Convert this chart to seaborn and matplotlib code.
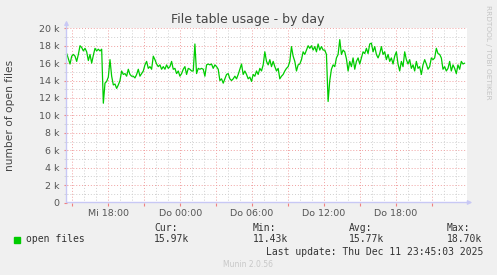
import numpy as np
import pandas as pd
import matplotlib
matplotlib.use("Agg")
import matplotlib.pyplot as plt
import matplotlib.dates as mdates
import matplotlib.ticker as mticker
import seaborn as sns

# ---- data (thousands of open files, one sample every 500 s) ----
values_k = [
    17.1, 16.5, 15.9, 16.8, 17.0, 16.8, 16.2, 17.0, 18.0, 17.8,
    17.4, 17.7, 17.3, 16.3, 17.0, 16.0, 16.9, 17.7, 17.4, 17.6,
    17.4, 17.6, 11.4, 13.7, 13.9, 14.4, 16.4, 14.5, 13.5, 13.6,
    13.1, 13.5, 14.0, 15.1, 14.7, 14.8, 14.5, 15.3, 14.7, 14.5,
    14.5, 14.3, 14.7, 15.3, 14.5, 14.8, 15.1, 15.8, 16.2, 15.4,
    15.6, 15.3, 16.8, 16.4, 15.9, 15.6, 15.8, 15.3, 15.6, 15.3,
    15.8, 15.4, 15.6, 16.2, 15.3, 15.4, 14.8, 15.1, 14.5, 14.8,
    15.3, 15.6, 14.7, 15.4, 15.3, 15.1, 15.1, 18.2, 14.8, 15.4,
    15.3, 15.4, 15.3, 14.5, 15.8, 15.9, 15.8, 15.9, 15.4, 15.8,
    15.6, 15.3, 14.0, 14.2, 13.7, 14.2, 14.7, 14.8, 14.2, 14.0,
    14.2, 14.5, 14.2, 14.7, 15.3, 15.9, 14.7, 15.1, 14.7, 14.2,
    14.4, 13.9, 14.7, 14.5, 15.1, 14.7, 15.4, 15.1, 15.8, 17.3,
    16.2, 15.8, 16.4, 15.6, 16.2, 15.6, 15.1, 15.4, 14.2, 14.5,
    14.7, 15.1, 15.4, 15.6, 16.2, 17.9, 16.8, 16.2, 15.1, 15.8,
    15.9, 16.4, 17.3, 17.0, 17.5, 18.0, 17.7, 18.0, 17.5, 17.9,
    17.3, 18.2, 17.5, 17.9, 17.5, 17.5, 17.0, 11.6, 14.0, 15.3,
    15.8, 15.6, 16.6, 17.0, 18.7, 17.0, 17.5, 17.3, 16.5, 15.1,
    16.2, 15.6, 16.6, 15.3, 16.2, 16.6, 15.9, 16.6, 17.3, 17.1,
    17.7, 17.1, 18.2, 18.3, 17.3, 17.9, 17.0, 16.6, 17.1, 17.9,
    17.0, 17.3, 16.4, 17.0, 16.2, 16.6, 15.9, 16.8, 17.3, 15.9,
    15.1, 16.2, 15.6, 17.3, 16.4, 15.9, 16.4, 15.4, 15.8, 15.1,
    16.2, 15.4, 15.6, 14.7, 15.8, 16.4, 15.9, 15.3, 15.6, 16.6,
    16.4, 16.6, 17.7, 17.1, 17.0, 16.6, 15.3, 15.6, 15.1, 15.4,
    16.2, 15.1, 15.8, 15.4, 14.8, 15.8, 15.3, 16.2, 15.9, 16.0,
]
series_name = "open files"
start_time = "2025-12-10 14:32"
sample_step = "500s"
x_start = "2025-12-10 14:31"
x_end = "2025-12-11 23:58"
weekday_de = ["Mo", "Di", "Mi", "Do", "Fr", "Sa", "So"]
stats_labels = ["Cur:", "Min:", "Avg:", "Max:"]
stats_values = ["15.97k", "11.43k", "15.77k", "18.70k"]
title = "File table usage - by day"
ylabel = "number of open files"
last_update = "Last update: Thu Dec 11 23:45:03 2025"

times = pd.date_range(start_time, periods=len(values_k), freq=sample_step)
df = pd.DataFrame({"time": times, series_name: np.array(values_k) * 1000.0})

sns.set_theme(style="white")
plt.rcParams["font.family"] = ["DejaVu Sans"]

W, H = 497, 275
fig = plt.figure(figsize=(W / 100, H / 100), dpi=100, facecolor="#F0F0F0")
left, right, top, bottom = 66.5, 467.5, 28.3, 202.5
ax = fig.add_axes([left / W, 1 - bottom / H, (right - left) / W, (bottom - top) / H])
ax.set_facecolor("white")

sns.lineplot(data=df, x="time", y=series_name, ax=ax, color="#00CC00", lw=0.9, zorder=5)

ax.set_xlim(pd.Timestamp(x_start), pd.Timestamp(x_end))
ax.set_ylim(0, 20000)

# y axis
ax.yaxis.set_major_locator(mticker.MultipleLocator(2000))
ax.yaxis.set_minor_locator(mticker.MultipleLocator(1000))
ax.yaxis.set_major_formatter(mticker.FuncFormatter(lambda v, p: "0" if v == 0 else f"{v/1000:g} k"))

# x axis
ax.xaxis.set_major_locator(mdates.HourLocator(byhour=range(0, 24, 3)))
ax.xaxis.set_minor_locator(mdates.HourLocator())


def fmt_x(v, p):
    d = mdates.num2date(v)
    if d.hour % 6 != 0:
        return ""
    return f"{weekday_de[d.weekday()]} {d.hour:02d}:{d.minute:02d}"


ax.xaxis.set_major_formatter(mticker.FuncFormatter(fmt_x))

ax.set_axisbelow(True)
ax.grid(which="major", color="#F0A0A0", lw=0.7, linestyle=(0, (1, 2)))
ax.grid(which="minor", color="#CFCFCF", lw=0.7, linestyle=(0, (1, 2)))

ax.tick_params(axis="both", which="major", labelsize=6.8, labelcolor="#555555",
               length=2.2, width=0.8, color="#F08080", pad=2.6)
ax.tick_params(axis="y", which="minor", length=2.0, width=0.6, color="#CFCFCF", left=True)
ax.tick_params(axis="x", which="minor", length=0)
ax.tick_params(axis="x", which="major", bottom=True)
ax.tick_params(axis="y", which="major", left=True)

ax.set_xlabel("")
ax.set_ylabel("")
for s in ax.spines.values():
    s.set_visible(False)

axis_col = "#C8C8F5"
ax.annotate("", xy=(0, 1.045), xytext=(0, 0), xycoords="axes fraction",
            arrowprops=dict(arrowstyle="-|>", color=axis_col, lw=1.0, mutation_scale=6,
                            shrinkA=0, shrinkB=0), zorder=6)
ax.annotate("", xy=(1.012, 0), xytext=(0, 0), xycoords="axes fraction",
            arrowprops=dict(arrowstyle="-|>", color=axis_col, lw=1.0, mutation_scale=6,
                            shrinkA=0, shrinkB=0), zorder=6)

# texts
fig.text(248 / W, 1 - 19.5 / H, title, ha="center", va="center", fontsize=9, color="#444444")
fig.text(10.5 / W, 1 - 115 / H, ylabel, ha="center", va="center", rotation=90,
         fontsize=7.7, color="#444444")
fig.text(487.7 / W, 1 - 5 / H, "RRDTOOL / TOBI OETIKER", ha="center", va="top",
         rotation=270, fontsize=5.3, color="#C4C4C4")

mono = "DejaVu Sans Mono"
fig.patches.append(plt.Rectangle((14 / W, 1 - 242.5 / H), 6 / W, 6 / H,
                                 transform=fig.transFigure, color="#00CC00"))
fig.text(26.3 / W, 1 - 239.5 / H, series_name, ha="left", va="center",
         fontsize=7, family=mono, color="#333333")
xs = [154.3, 252.5, 349.3, 447.0]
for xx, lab, val in zip(xs, stats_labels, stats_values):
    fig.text(xx / W, 1 - 227.7 / H, lab, ha="left", va="center", fontsize=7,
             family=mono, color="#333333")
    fig.text(xx / W, 1 - 239.5 / H, val, ha="left", va="center", fontsize=7,
             family=mono, color="#333333")
fig.text(483 / W, 1 - 251.7 / H, last_update, ha="right", va="center", fontsize=7,
         family=mono, color="#333333")
fig.text(248 / W, 1 - 264.3 / H, "Munin 2.0.56", ha="center", va="center",
         fontsize=5.5, color="#C8C8C8")

fig.savefig("out.png", dpi=100, facecolor=fig.get_facecolor())
